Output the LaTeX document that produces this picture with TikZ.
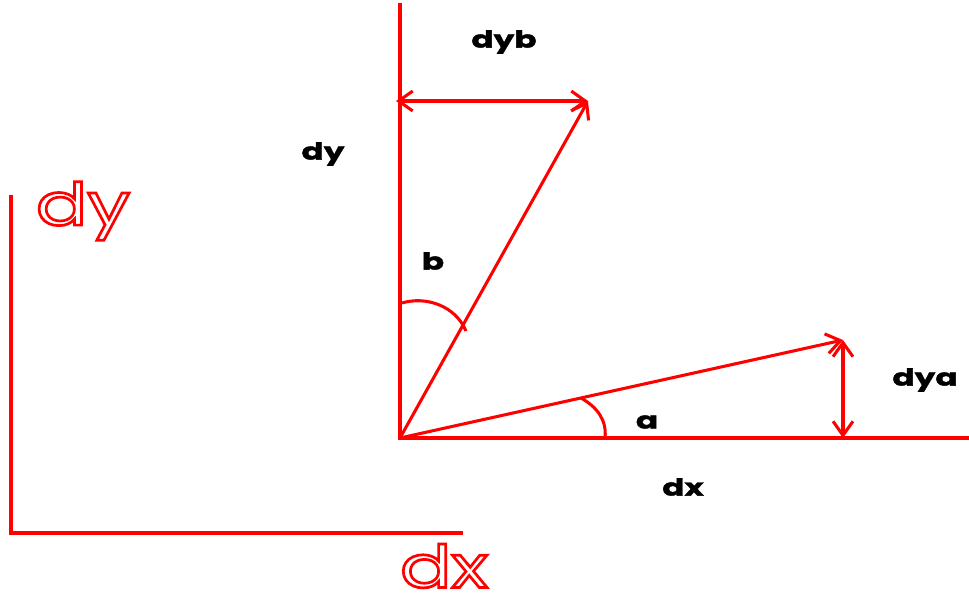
\documentclass[tikz,border=0pt]{standalone}
\usepackage{fontspec}
\usetikzlibrary{arrows.meta}
\newfontfamily\lblfont[FakeStretch=1.4, FakeBold=1.6]{Poppins Bold}
\newfontfamily\bigfont[FakeStretch=1.3]{Poppins}
\newcommand\hollow[1]{\special{pdf:literal direct 1 Tr 2.3 w}#1\special{pdf:literal direct 0 Tr}}

\begin{document}
\begin{tikzpicture}[x=0.03cm, y=-0.03cm, line width=2.6pt, red,
  vec/.style={-{Straight Barb[length=12pt, width=17pt]}},
  dbl/.style={{Straight Barb[length=12pt, width=17pt]}-{Straight Barb[length=12pt, width=17pt]}},
  lbl/.style={text=black, font=\lblfont\fontsize{20}{22}\selectfont},
  big/.style={text=red, font=\bigfont\fontsize{50}{56}\selectfont}]
  \useasboundingbox (0,0) rectangle (969,596);
  % left axes
  \coordinate (L0) at (11,533);
  \coordinate (LY) at (11,195);
  \coordinate (LX) at (463,533);
  \draw (LY) -- (L0) -- (LX);
  \node[big] (bigdy) at (83,211) {\hollow{dy}};
  \node[big] (bigdx) at (444,566) {\hollow{dx}};
  % main axes
  \coordinate (O) at (400,438);
  \coordinate (Ytop) at (400,3);
  \coordinate (Xend) at (969,438);
  \draw (Ytop) -- (O) -- (Xend);
  % vectors
  \coordinate (B) at (588,101);
  \coordinate (A) at (843,340);
  \coordinate (Bl) at (396,101);
  \coordinate (Ab) at (843,438);
  \draw[vec] (O) -- (B);
  \draw[vec] (O) -- (A);
  \draw[dbl] (Bl) -- (B);
  \draw[dbl] (Ab) -- (A);
  % angle arcs
  \draw (402,303) .. controls (425,296) and (455,305) .. (466,331);
  \draw (581,398) .. controls (597,407) and (607,420) .. (605,438);
  % labels
  \node[lbl] (dyb) at (504,42) {dyb};
  \node[lbl] (dy) at (323,154) {dy};
  \node[lbl] (b) at (433,261) {b};
  \node[lbl] (a) at (647,422) {a};
  \node[lbl] (dya) at (925,380) {dya};
  \node[lbl] (dx) at (683,487) {dx};
\end{tikzpicture}
\end{document}
